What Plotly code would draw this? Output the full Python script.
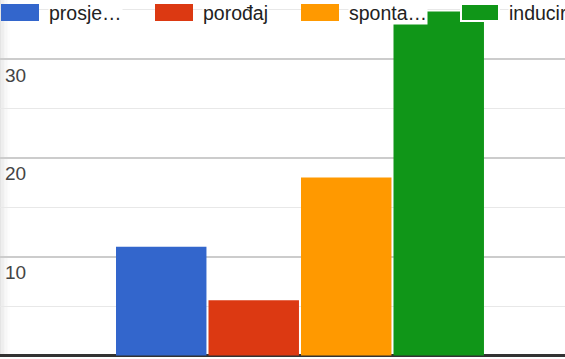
import plotly.graph_objects as go

# ---- data ----
series_names = ["prosje…", "porođaj", "sponta…", "inducir"]
series_values = [11.0, 5.6, 18.0, 34.8]
series_colors = ["#3366cc", "#dc3912", "#ff9900", "#109618"]
y_tick_values = [10, 20, 30]
y_tick_labels = ["10", "20", "30"]

W, H = 565, 359
FONT = "Liberation Sans, Arial, sans-serif"

fig = go.Figure()
for name, val, col in zip(series_names, series_values, series_colors):
    fig.add_trace(go.Bar(x=[0], y=[val], name=name, marker=dict(color=col, line=dict(width=0)),
                         showlegend=False, hoverinfo="skip"))

# custom Google-Charts-like legend (layout decoration)
legend_swatch_x = [1, 155, 301, 461]
sw_w, sw_top, sw_bot = 38, 4, 21
shapes = []
annotations = []
def px(x):
    return x / W
def py(y):
    return 1 - y / H

# left shadow gradient
shade = ["#e4e4e4", "#eaeaea", "#efefef", "#f3f3f3", "#f7f7f7", "#fafafa", "#fdfdfd"]
for i, c in enumerate(shade):
    shapes.append(dict(type="rect", xref="paper", yref="paper", x0=px(i * 1.4), x1=px((i + 1) * 1.4),
                       y0=py(354), y1=1, fillcolor=c, line=dict(width=0), layer="below"))

for i, (name, col) in enumerate(zip(series_names, series_colors)):
    x0 = legend_swatch_x[i]
    shapes.append(dict(type="rect", xref="paper", yref="paper", x0=px(x0), x1=px(x0 + sw_w),
                       y0=py(sw_bot), y1=py(sw_top), fillcolor=col,
                       line=dict(color="white", width=2 if i == 3 else 0), layer="above"))
    annotations.append(dict(xref="paper", yref="paper", x=px(x0 + sw_w + 9), y=py(12.5),
                            xanchor="left", yanchor="middle", text=name, showarrow=False,
                            font=dict(family=FONT, size=19.5, color="#222222"),
                            bgcolor="white", borderpad=0))

fig.update_layout(
    template="none",
    width=W, height=H,
    margin=dict(l=0, r=0, t=0, b=0, pad=0, autoexpand=False),
    paper_bgcolor="white", plot_bgcolor="white",
    barmode="group", bargap=0.2, bargroupgap=0.022,
    xaxis=dict(range=[-0.6486, 0.573], showgrid=False, zeroline=False, showticklabels=False,
               ticks="", showline=False, fixedrange=True, automargin=False),
    yaxis=dict(range=[-0.354, 35.97], tickmode="array", tickvals=y_tick_values, ticktext=y_tick_labels,
               showgrid=True, gridcolor="#cccccc", gridwidth=1.5,
               zeroline=True, zerolinecolor="#333333", zerolinewidth=3,
               ticklabelposition="inside", ticks="", ticklabelshift=16, ticklabelstandoff=2,
               tickfont=dict(family=FONT, size=19, color="#444444"),
               minor=dict(tickmode="linear", tick0=0, dtick=5, showgrid=True, gridcolor="#e8e8e8", gridwidth=1.2),
               showline=False, fixedrange=True, automargin=False),
    shapes=shapes, annotations=annotations,
    showlegend=False,
)

fig.write_html("out.html", config={"displayModeBar": False},
               post_script="document.body.style.margin='0';document.body.style.overflow='hidden';")
